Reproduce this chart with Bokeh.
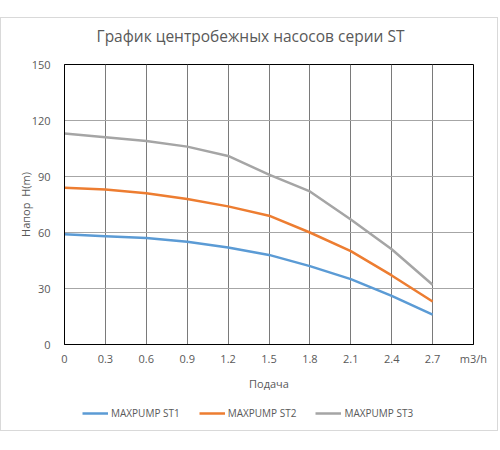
from bokeh.plotting import figure
from bokeh.layouts import column
from bokeh.models import FixedTicker, Legend, LegendItem, Label, Spacer
from bokeh.embed import file_html
from bokeh.resources import INLINE

# Подача, m3/h (категории оси X) и напор H(m)
flow_labels = ["0", "0.3", "0.6", "0.9", "1.2", "1.5", "1.8", "2.1", "2.4", "2.7"]
unit_label = "m3/h"
st1 = [59, 58, 57, 55, 52, 48, 42, 35, 26, 16]
st2 = [84, 83, 81, 78, 74, 69, 60, 50, 37, 23]
st3 = [113, 111, 109, 106, 101, 91, 82, 67, 51, 32]
series_names = ["MAXPUMP ST1", "MAXPUMP ST2", "MAXPUMP ST3"]
y_ticks = [0, 30, 60, 90, 120, 150]
title_text = "График центробежных насосов серии ST"

FONT = "Open Sans"
GREY_TEXT = "#595959"
colors = ["#5B9BD5", "#ED7D31", "#A5A5A5"]
W = 496
FRAME_W = 409  # the column lines up every strip's frame with the chart's frame

x = list(range(len(flow_labels)))
tick_labels = flow_labels + [unit_label]

# title strip (its frame is aligned with the chart frame, so centre it on the whole box)
tf = figure(width=W, height=38, x_range=(0, FRAME_W), y_range=(0, 38),
            output_backend="svg", toolbar_location=None,
            x_axis_location=None, y_axis_location=None, min_border=0)
tf.outline_line_color = None
tf.grid.visible = False
tf.add_layout(Label(x=W / 2 - 62, y=21, text=title_text, text_align="center", text_baseline="middle",
                    text_font=FONT, text_font_size="15.5px", text_color=GREY_TEXT))

p = figure(width=W, height=340, x_range=(0, len(flow_labels)), y_range=(0, 150),
           output_backend="svg", toolbar_location=None,
           min_border_left=63, min_border_right=24, min_border_top=8, min_border_bottom=52)

p.outline_line_color = "black"
p.outline_line_width = 1

p.xaxis.ticker = FixedTicker(ticks=list(range(len(tick_labels))))
p.xaxis.major_label_overrides = {i: t for i, t in enumerate(tick_labels)}
p.yaxis.ticker = FixedTicker(ticks=y_ticks)

for ax in (p.xaxis[0], p.yaxis[0]):
    ax.axis_line_color = "black"
    ax.major_tick_line_color = None
    ax.minor_tick_line_color = None
    ax.major_label_text_font = FONT
    ax.major_label_text_font_size = "11px"
    ax.major_label_text_color = GREY_TEXT
    ax.axis_label_text_font = FONT
    ax.axis_label_text_font_size = "11px"
    ax.axis_label_text_font_style = "normal"
    ax.axis_label_text_color = GREY_TEXT

p.xaxis.axis_label = "Подача"
p.yaxis.axis_label = "Напор\u00a0 H(m)"
p.xaxis.major_label_standoff = 0
p.yaxis.major_label_standoff = 8
p.xaxis.axis_label_standoff = 7
p.yaxis.axis_label_standoff = -4

p.xgrid.grid_line_color = "#7a7a7a"
p.ygrid.grid_line_color = "#a6a6a6"

for vals, c in zip([st1, st2, st3], colors):
    p.line(x, vals, line_color=c, line_width=2.5)

# separate strip for the legend under the chart
lg = figure(width=W, height=34, x_range=(0, 1), y_range=(0, 1),
            output_backend="svg", toolbar_location=None,
            x_axis_location=None, y_axis_location=None, min_border=0)
lg.outline_line_color = None
lg.grid.visible = False
items = []
for vals, c, n in zip([st1, st2, st3], colors, series_names):
    r = lg.line(x, vals, line_color=c, line_width=2.5)
    items.append(LegendItem(label=n, renderers=[r]))

legend = Legend(items=items, orientation="horizontal", location=(18, 7),
                label_text_font=FONT, label_text_font_size="10px", label_text_color=GREY_TEXT,
                glyph_width=26, label_standoff=3, spacing=19,
                border_line_color=None, background_fill_alpha=0, margin=0, padding=2)
lg.add_layout(legend, "center")

chart = column(tf, p, lg, spacing=0, styles={"border": "1px solid #d9d9d9"})
layout = column(Spacer(height=17), chart, spacing=0)
open("out.html", "w").write(file_html(layout, INLINE))
